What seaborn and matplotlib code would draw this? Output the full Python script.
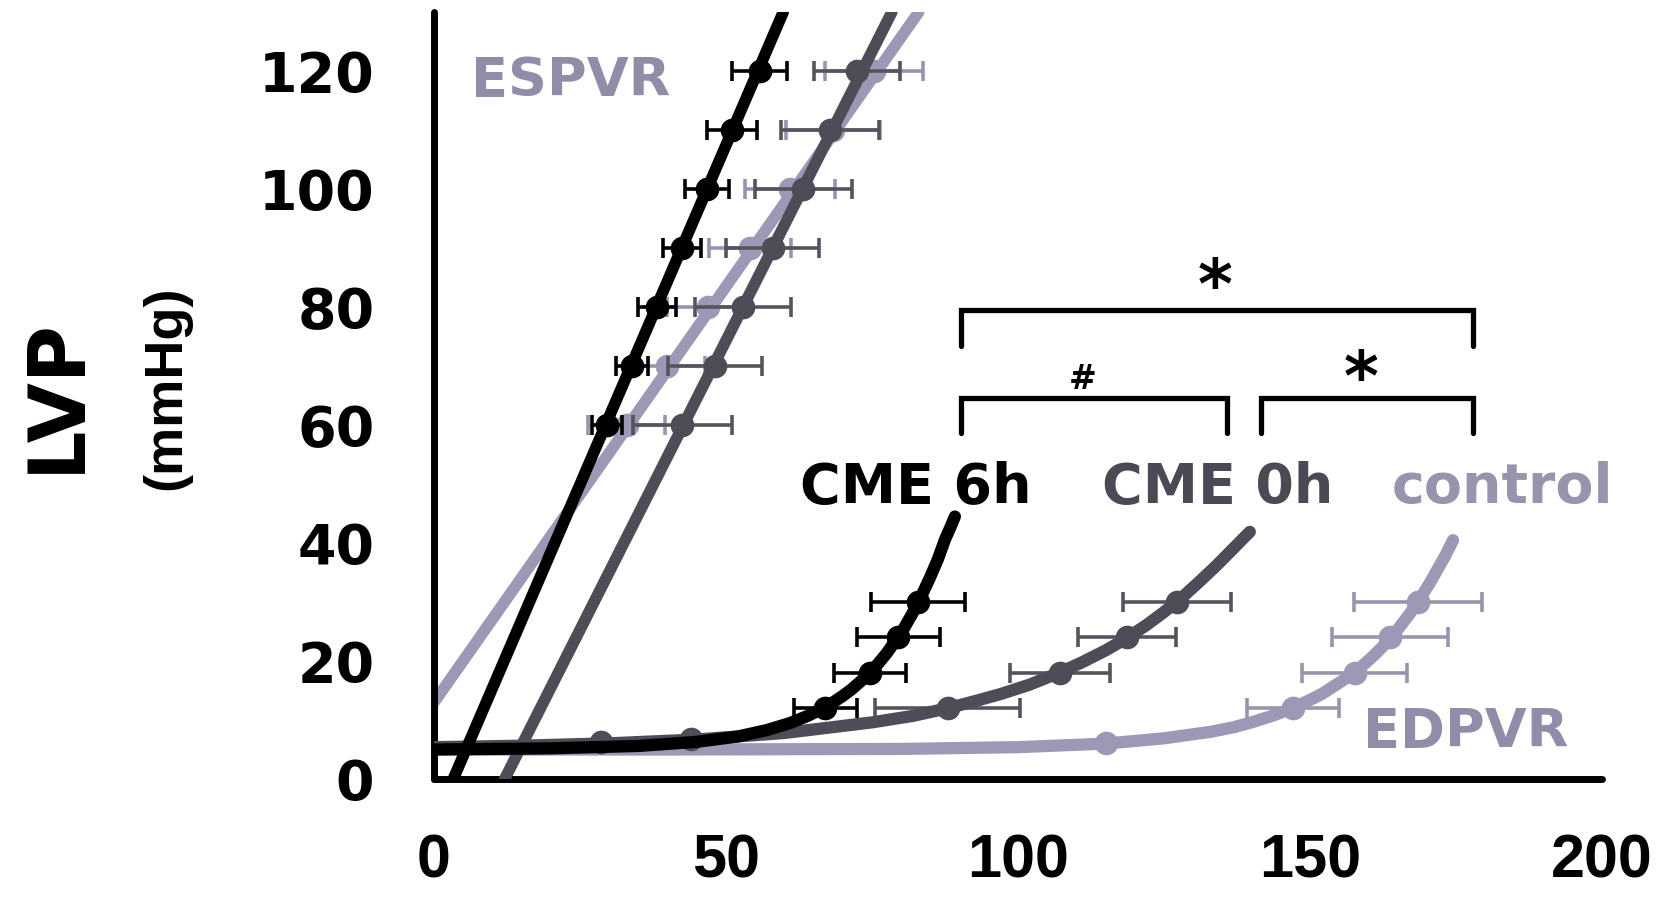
import numpy as np
import pandas as pd
import matplotlib
matplotlib.use("Agg")
import matplotlib.pyplot as plt
import seaborn as sns

# ---------------- data ----------------
groups = ["control", "CME 0h", "CME 6h"]
colors = {"control": "#9b99b5", "CME 0h": "#4d4c57", "CME 6h": "#000000"}
bar_colors = {"control": "#9795ad", "CME 0h": "#55545c", "CME 6h": "#000000"}

# ESPVR measured points (pressure, volume, SD of volume)
espvr_p = [60, 70, 80, 90, 100, 110, 120]
espvr_v_cme6 = [29.6, 33.9, 38.2, 42.5, 46.7, 51.0, 55.8]
espvr_sd_cme6 = [2.6, 2.7, 3.2, 3.3, 3.8, 4.3, 4.7]
espvr_v_cme0 = [42.5, 48.1, 52.9, 58.0, 63.2, 67.8, 72.4]
espvr_sd_cme0 = [8.5, 8.1, 8.2, 8.0, 8.3, 8.4, 7.4]
espvr_v_ctrl = [33.0, 39.9, 46.9, 54.1, 61.0, 68.3, 75.4]
espvr_sd_ctrl = [6.6, 6.5, 7.0, 7.0, 7.7, 8.0, 8.4]

# ESPVR fitted lines (end points)
espvr_line_cme6_v = [3.3, 59.8]
espvr_line_cme6_p = [0, 130]
espvr_line_cme0_v = [12.1, 78.4]
espvr_line_cme0_p = [0, 130]
espvr_line_ctrl_v = [0.0, 83.0]
espvr_line_ctrl_p = [13.0, 130]

# EDPVR measured points
edpvr_p = [12, 18, 24, 30]
edpvr_v_cme6 = [67.0, 74.7, 79.5, 82.9]
edpvr_sd_cme6 = [5.4, 6.2, 7.1, 8.0]
edpvr_v_cme0 = [88.0, 107.2, 118.7, 127.2]
edpvr_sd_cme0 = [12.4, 8.6, 8.4, 9.2]
edpvr_v_ctrl = [147.1, 157.7, 163.7, 168.5]
edpvr_sd_ctrl = [7.8, 9.0, 10.0, 11.0]
# low-pressure points without visible bars
edpvr_low_v_cme0 = [28.6, 44.0]
edpvr_low_p_cme0 = [6.2, 6.8]
edpvr_low_v_ctrl = [115.0]
edpvr_low_p_ctrl = [6.1]

# EDPVR fitted curves
edpvr_curve_cme6_v = [0, 20, 35, 45, 52, 57, 61, 64, 67, 68.5, 70, 71.5, 73, 74.5, 76, 77.5,
                      79, 80.5, 82, 83.5, 85, 86.3, 87.5, 88.4, 89.2]
edpvr_curve_cme6_p = [5.0, 5.2, 5.6, 6.3, 7.2, 8.3, 9.5, 10.7, 12.2, 13.1, 14.1, 15.2, 16.5, 17.9,
                      19.5, 21.3, 23.4, 25.6, 28.2, 31.1, 34.3, 37.3, 40.6, 42.6, 44.5]
edpvr_curve_cme0_v = [0, 15, 30, 45, 60, 75, 82, 88, 93, 97, 102, 107, 111, 115, 118.5, 122,
                      125, 128, 131, 134, 137, 139.7]
edpvr_curve_cme0_p = [5.4, 5.65, 6.05, 6.7, 7.8, 9.6, 10.7, 12.0, 13.3, 14.4, 16.0, 18.0, 19.8,
                      21.8, 23.8, 26.1, 28.3, 30.7, 33.4, 36.2, 39.2, 41.9]
edpvr_curve_ctrl_v = [0, 40, 80, 100, 115, 125, 133, 137, 140, 143.5, 147, 150, 152, 154.5, 157,
                      159, 161, 163, 165, 167, 169, 170.5, 172, 173.3, 174.5]
edpvr_curve_ctrl_p = [5.0, 5.0, 5.1, 5.4, 6.0, 6.9, 8.0, 8.8, 9.6, 10.7, 12.0, 13.4, 14.4, 16.0,
                      17.6, 19.2, 21.0, 23.0, 25.3, 27.9, 30.8, 33.2, 35.8, 38.1, 40.5]

# significance brackets
brk_outer_x = [90.2, 90.2, 178.0, 178.0]
brk_outer_y = [73.4, 79.5, 79.5, 73.4]
brk_left_x = [90.2, 90.2, 135.8, 135.8]
brk_right_x = [141.7, 141.7, 178.0, 178.0]
brk_inner_y = [58.6, 64.6, 64.6, 58.6]
sig_labels = ["*", "#", "*"]
sig_x = [133.7, 111.1, 158.7]
sig_y = [83.0, 67.8, 67.5]

x_ticks = [0, 50, 100, 150, 200]
y_ticks = [0, 20, 40, 60, 80, 100, 120]

# ---------------- plotting ----------------
sns.set_theme(style="white")
plt.rcParams["font.family"] = ["DejaVu Sans"]
plt.rcParams["text.color"] = "black"
plt.rcParams["xtick.color"] = "black"
plt.rcParams["ytick.color"] = "black"

fig = plt.figure(figsize=(16.68, 8.98), dpi=100)
ax = fig.add_axes([0.2602, 0.1325, 0.7002, 0.854])

series = {
    "control": dict(ev=espvr_v_ctrl, esd=espvr_sd_ctrl, lv=espvr_line_ctrl_v, lp=espvr_line_ctrl_p,
                    dv=edpvr_v_ctrl, dsd=edpvr_sd_ctrl, cv=edpvr_curve_ctrl_v, cp=edpvr_curve_ctrl_p,
                    lowv=edpvr_low_v_ctrl, lowp=edpvr_low_p_ctrl),
    "CME 0h": dict(ev=espvr_v_cme0, esd=espvr_sd_cme0, lv=espvr_line_cme0_v, lp=espvr_line_cme0_p,
                   dv=edpvr_v_cme0, dsd=edpvr_sd_cme0, cv=edpvr_curve_cme0_v, cp=edpvr_curve_cme0_p,
                   lowv=edpvr_low_v_cme0, lowp=edpvr_low_p_cme0),
    "CME 6h": dict(ev=espvr_v_cme6, esd=espvr_sd_cme6, lv=espvr_line_cme6_v, lp=espvr_line_cme6_p,
                   dv=edpvr_v_cme6, dsd=edpvr_sd_cme6, cv=edpvr_curve_cme6_v, cp=edpvr_curve_cme6_p,
                   lowv=[], lowp=[]),
}

z = 2
for g in groups:
    s = series[g]
    c = colors[g]
    bc = bar_colors[g]
    # error bars
    ax.errorbar(s["ev"], espvr_p, xerr=s["esd"], fmt="none", ecolor=bc, elinewidth=2.6,
                capsize=7, capthick=2.6, zorder=z)
    ax.errorbar(s["dv"], edpvr_p, xerr=s["dsd"], fmt="none", ecolor=bc, elinewidth=2.6,
                capsize=7, capthick=2.6, zorder=z)
    # lines
    line_df = pd.DataFrame({"V": s["lv"], "P": s["lp"]})
    sns.lineplot(data=line_df, x="V", y="P", ax=ax, color=c, linewidth=8.3, sort=False,
                 estimator=None, zorder=z + 0.5, solid_capstyle="round")
    curve_df = pd.DataFrame({"V": s["cv"], "P": s["cp"]})
    sns.lineplot(data=curve_df, x="V", y="P", ax=ax, color=c, linewidth=8.8, sort=False,
                 estimator=None, zorder=z + 0.5, solid_capstyle="round", solid_joinstyle="round")
    # points
    pts = pd.DataFrame({"V": list(s["ev"]) + list(s["dv"]) + list(s["lowv"]),
                        "P": list(espvr_p) + list(edpvr_p) + list(s["lowp"])})
    sns.scatterplot(data=pts, x="V", y="P", ax=ax, color=c, s=290, linewidth=0, zorder=z + 0.7)
    z += 1

# brackets
for bx, by in [(brk_outer_x, brk_outer_y), (brk_left_x, brk_inner_y), (brk_right_x, brk_inner_y)]:
    ax.plot(bx, by, color="black", linewidth=3.8, solid_joinstyle="miter", zorder=10)
for lab, xx, yy in zip(sig_labels, sig_x, sig_y):
    ax.text(xx, yy, lab, ha="center", va="center", fontsize=48 if lab == "*" else 24,
            fontweight="bold", color="black", family="DejaVu Sans", zorder=10)

# group labels
ax.text(82.5, 46.8, "CME 6h", ha="center", va="baseline", fontsize=40, fontweight="bold",
        color=colors["CME 6h"], family="DejaVu Sans")
ax.text(134.2, 46.8, "CME 0h", ha="center", va="baseline", fontsize=40, fontweight="bold",
        color="#4b4a54", family="DejaVu Sans")
ax.text(182.9, 46.8, "control", ha="center", va="baseline", fontsize=40, fontweight="bold",
        color="#9795ae", family="DejaVu Sans")
ax.text(23.4, 115.8, "ESPVR", ha="center", va="baseline", fontsize=39, fontweight="bold",
        color="#8f8da7", family="DejaVu Sans")
ax.text(176.7, 5.4, "EDPVR", ha="center", va="baseline", fontsize=39, fontweight="bold",
        color="#8f8da7", family="DejaVu Sans")

# axes styling
ax.set_xlim(0, 200)
ax.set_ylim(0, 130)
ax.set_xticks(x_ticks)
ax.set_yticks(y_ticks)
ax.set_xticklabels([str(t) for t in x_ticks])
ax.set_yticklabels([str(t) for t in y_ticks])
ax.set_xlabel("")
ax.set_ylabel("")
for sp in ["top", "right"]:
    ax.spines[sp].set_visible(False)
for sp in ["left", "bottom"]:
    ax.spines[sp].set_linewidth(5)
    ax.spines[sp].set_color("black")
    ax.spines[sp].set_capstyle("round")
ax.tick_params(axis="both", which="major", direction="out", length=19, width=5, color="black",
               labelcolor="black")
ax.tick_params(axis="y", pad=24)
ax.tick_params(axis="x", pad=20)
for lab in ax.get_yticklabels():
    lab.set_fontfamily("DejaVu Sans")
    lab.set_fontweight("bold")
    lab.set_fontsize(40)
    lab.set_color("black")
for lab in ax.get_xticklabels():
    lab.set_fontfamily("Liberation Sans")
    lab.set_fontweight("bold")
    lab.set_fontsize(44)
    lab.set_color("black")
ax.set_facecolor("white")
ax.grid(False)

# y-axis title
fig.text(57 / 1668, 1 - 395 / 898, "LVP", rotation=90, ha="center", va="center",
         fontsize=56, fontweight="bold", family="DejaVu Sans", color="black")
fig.text(166 / 1668, 1 - 388 / 898, "(mmHg)", rotation=90, ha="center", va="center",
         fontsize=39, fontweight="bold", family="Liberation Sans", color="black")

fig.savefig("out.png", dpi=100, facecolor="white")
